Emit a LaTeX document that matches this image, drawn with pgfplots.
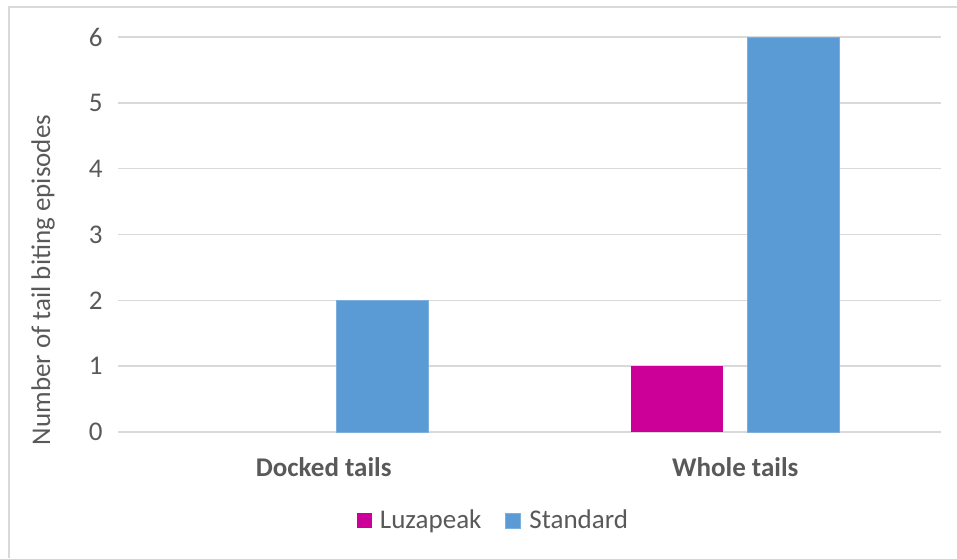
\documentclass[border=0pt]{standalone}
\usepackage{pgfplots}
\pgfplotsset{compat=1.18}
\usepackage{fontspec}
\setmainfont{Carlito}
\definecolor{luza}{HTML}{CC0099}
\definecolor{stdb}{HTML}{5B9BD5}
\definecolor{stdedge}{HTML}{7EB0DE}
\definecolor{gridc}{HTML}{D9D9D9}
\definecolor{txt}{HTML}{595959}
\newcommand{\chartfont}{\fontsize{13.5}{16}\selectfont}
\begin{document}
\begin{tikzpicture}[x=0.5pt,y=0.5pt]
\useasboundingbox (0,0) rectangle (957,558);
\draw[gridc, line width=1pt] (9,0) -- (9,551) -- (957,551);
\begin{axis}[
    at={(59pt,63pt)}, anchor=south west,
    scale only axis,
    width=411.5pt, height=197.5pt,
    xmin=-0.5, xmax=1.5,
    ymin=0, ymax=6,
    xtick={0,1},
    xticklabels={Docked tails, Whole tails},
    ytick={0,1,...,6},
    ymajorgrids,
    grid style={gridc, line width=0.75pt},
    axis line style={draw=none},
    major tick length=0pt,
    tick label style={font=\chartfont, text=txt},
    /pgf/number format/assume math mode=true,
    xticklabel style={font=\chartfont\bfseries, anchor=center, yshift=-17.5pt},
    yticklabel style={anchor=east, inner sep=0pt, xshift=-7.5pt},
    ylabel={Number of tail biting episodes},
    ylabel style={font=\chartfont, text=txt, at={(axis description cs:-0.0911,0.385)}, anchor=center},
    legend style={at={(axis description cs:0.4575,-0.2253)}, anchor=center, draw=none,
        font=\chartfont, text=txt, legend columns=2,
        /tikz/every even column/.append style={column sep=10pt}},
    legend image code/.code={\fill[#1] (0pt,-3.75pt) rectangle (7.5pt,3.75pt);
        \path (9.5pt,0pt);},
]
% Luzapeak: docked tails = 0 (no bar drawn), whole tails = 1
\addplot[ybar, bar width=0.2236, bar shift=-0.142, fill=luza, draw=none]
    coordinates {(1,1)};
\addlegendentry{Luzapeak}
\addplot[ybar, bar width=0.2236, bar shift=0.142, fill=stdb, draw=stdedge, line width=0.5pt]
    coordinates {(0,2) (1,6)};
\addlegendentry{Standard}
\end{axis}
\end{tikzpicture}
\end{document}
